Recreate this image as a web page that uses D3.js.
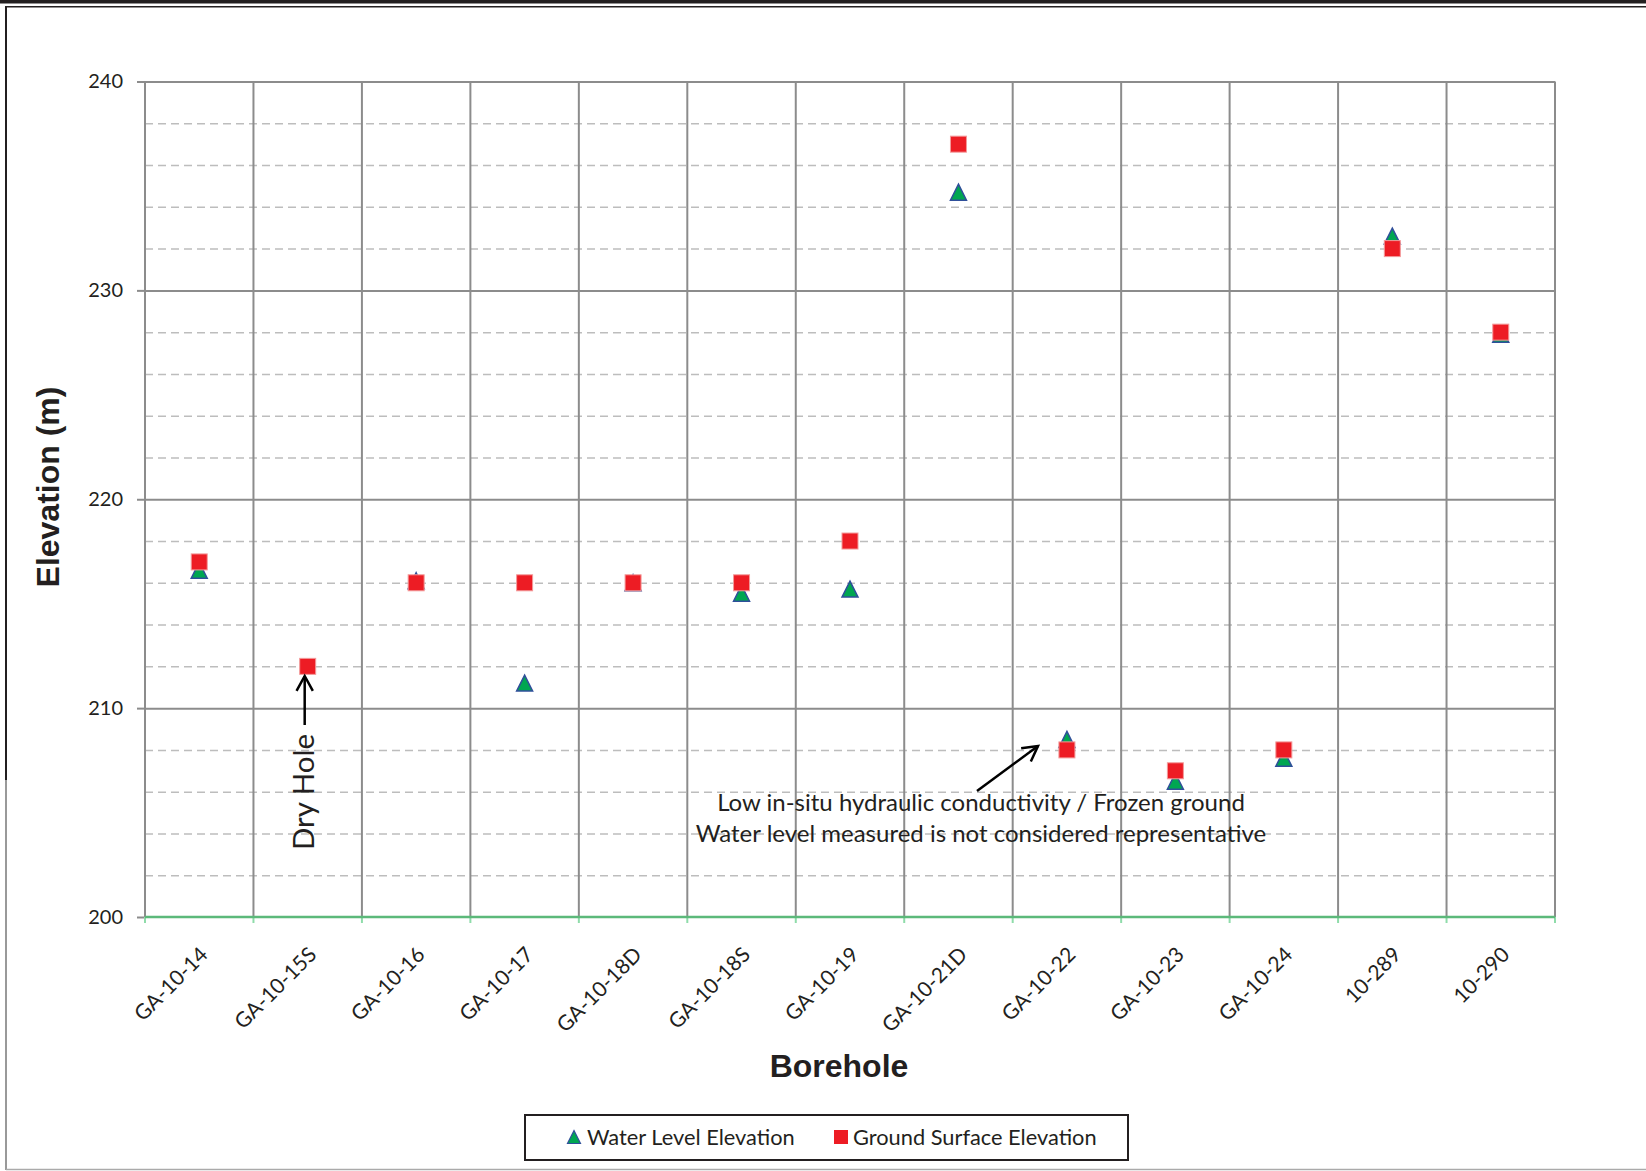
<!DOCTYPE html>
<html><head><meta charset="utf-8">
<script src="https://cdn.jsdelivr.net/npm/d3@7"></script>
<style>body{margin:0;background:#fff} svg{display:block}</style>
</head><body>
<svg id="c" width="1646" height="1171"></svg>
<script>
// ---- data ----
const categories = ["GA-10-14","GA-10-15S","GA-10-16","GA-10-17","GA-10-18D","GA-10-18S","GA-10-19","GA-10-21D","GA-10-22","GA-10-23","GA-10-24","10-289","10-290"];
const groundSurface = [217,212,216,216,216,216,218,237,208,207,208,232,228];
const waterLevel    = [216.6,null,216.1,211.2,216,215.5,215.7,234.7,208.5,206.5,207.6,232.6,227.9];
const yMajorTicks = [200,210,220,230,240];
const yMinorTicks = [202,204,206,208,212,214,216,218,222,224,226,228,232,234,236,238];
const seriesNames = ["Water Level Elevation","Ground Surface Elevation"];
const xTitle = "Borehole";
const yTitle = "Elevation (m)";
const dryHoleLabel = "Dry Hole";
const noteLines = ["Low in-situ hydraulic conductivity / Frozen ground","Water level measured is not considered representative"];

// ---- layout ----
const W = 1646, H = 1171;
const L = 145, R = 1555, T = 81.5, B = 917;
const ink = "#231f20";
const txtFont = "Lato, 'Open Sans', sans-serif";
const svg = d3.select("#c");

const x = d3.scaleBand().domain(categories).range([L, R]).padding(0);
const y = d3.scaleLinear().domain([200, 240]).range([B, T]);

// page frame
svg.append("rect").attr("x",0).attr("y",0).attr("width",W).attr("height",3.5).attr("fill",ink);
svg.append("line").attr("x1",5).attr("x2",W).attr("y1",6.7).attr("y2",6.7).attr("stroke",ink).attr("stroke-width",1.6);
svg.append("line").attr("x1",6).attr("x2",6).attr("y1",6).attr("y2",780).attr("stroke",ink).attr("stroke-width",2);
svg.append("line").attr("x1",6).attr("x2",6).attr("y1",780).attr("y2",1170).attr("stroke","#777").attr("stroke-width",1.5);
svg.append("line").attr("x1",6).attr("x2",W).attr("y1",1169.5).attr("y2",1169.5).attr("stroke","#aaa").attr("stroke-width",1.5);

// minor dashed gridlines
svg.append("g").attr("transform",`translate(${L},0)`)
  .call(d3.axisLeft(y).tickValues(yMinorTicks).tickSize(-(R-L)).tickFormat(""))
  .call(g => g.select(".domain").remove())
  .call(g => g.selectAll("line").attr("stroke","#bdbdbd").attr("stroke-width",1.5).attr("stroke-dasharray","8,5"));

// vertical gridlines at band boundaries
const bounds = categories.map(c => x(c)).concat([x.range()[1]]);
svg.append("g").selectAll("line").data(bounds).join("line")
  .attr("x1",d=>d).attr("x2",d=>d).attr("y1",T).attr("y2",B)
  .attr("stroke","#8c8c8c").attr("stroke-width",2);

// major gridlines + y axis ticks/labels
svg.append("g").attr("transform",`translate(${L},0)`)
  .call(d3.axisLeft(y).tickValues(yMajorTicks.filter(v=>v>200)).tickSize(-(R-L)).tickFormat(""))
  .call(g => g.select(".domain").remove())
  .call(g => g.selectAll("line").attr("stroke","#8c8c8c").attr("stroke-width",2));
const yAx = svg.append("g").attr("transform",`translate(${L},0)`)
  .call(d3.axisLeft(y).tickValues(yMajorTicks).tickSize(8).tickPadding(14).tickFormat(d3.format("d")));
yAx.select(".domain").remove();
yAx.selectAll("line").attr("stroke","#8c8c8c").attr("stroke-width",2);
yAx.selectAll("text").attr("font-family",txtFont).attr("font-size",20).attr("fill",ink);

// x axis (green)
svg.append("g").selectAll("line").data(bounds).join("line")
  .attr("x1",d=>d).attr("x2",d=>d).attr("y1",B).attr("y2",B+6)
  .attr("stroke","#8fdcaa").attr("stroke-width",2);
svg.append("line").attr("x1",L).attr("x2",R).attr("y1",B).attr("y2",B).attr("stroke","#5cb97a").attr("stroke-width",2.5);

// x labels
svg.append("g").selectAll("text").data(categories).join("text")
  .attr("transform", d => `translate(${x(d)+x.bandwidth()/2+10},956) rotate(-45)`)
  .attr("text-anchor","end").attr("font-family",txtFont).attr("font-size",21).attr("fill",ink)
  .text(d=>d);

// axis titles
svg.append("text").attr("x",(L+R)/2 - 11).attr("y",1077).attr("text-anchor","middle")
  .attr("font-family","'Liberation Sans', Arial, sans-serif").attr("font-weight","bold").attr("font-size",32).attr("fill",ink).text(xTitle);
svg.append("text").attr("transform","translate(59,487) rotate(-90)").attr("text-anchor","middle")
  .attr("font-family","'Liberation Sans', Arial, sans-serif").attr("font-weight","bold").attr("font-size",32).attr("fill",ink).text(yTitle);

// markers
const tri = (cx, cy, w, h) => `M${cx},${cy-h/2}L${cx+w/2},${cy+h/2}L${cx-w/2},${cy+h/2}Z`;
const waterPts = categories.map((c,i)=>({c, v: waterLevel[i]})).filter(d=>d.v!==null);
const groundPts = categories.map((c,i)=>({c, v: groundSurface[i]}));
const cxOf = c => x(c) + x.bandwidth()/2;
svg.append("g").selectAll("path").data(waterPts).join("path")
  .attr("d", d => tri(cxOf(d.c), y(d.v), 16, 16))
  .attr("fill","#00a651").attr("stroke","#2f4f9a").attr("stroke-width",1.5);
svg.append("g").selectAll("rect").data(groundPts).join("rect")
  .attr("x", d => cxOf(d.c)-8).attr("y", d => y(d.v)-8).attr("width",16).attr("height",16)
  .attr("fill","#ed1c24").attr("stroke","#f39a9a").attr("stroke-width",1);

// arrows
function arrow(x1,y1,x2,y2){
  const g = svg.append("g").attr("stroke","#000").attr("stroke-width",2.5).attr("fill","none");
  g.append("line").attr("x1",x1).attr("y1",y1).attr("x2",x2).attr("y2",y2);
  const a = Math.atan2(y2-y1, x2-x1), len = 17, sp = 0.5;
  const p1 = [x2 - len*Math.cos(a-sp), y2 - len*Math.sin(a-sp)];
  const p2 = [x2 - len*Math.cos(a+sp), y2 - len*Math.sin(a+sp)];
  g.append("polyline").attr("points", `${p1} ${x2},${y2} ${p2}`);
}
const dryX = cxOf("GA-10-15S") - 3;
arrow(dryX, 725, dryX, 676);
svg.append("text").attr("transform",`translate(${dryX+9.5},792) rotate(-90)`).attr("text-anchor","middle")
  .attr("font-family",txtFont).attr("font-size",29.5).attr("fill",ink).text(dryHoleLabel);

arrow(977, 791, 1038, 746);
svg.append("g").selectAll("text").data(noteLines).join("text")
  .attr("x",981).attr("y",(d,i)=>811+i*31).attr("text-anchor","middle")
  .attr("font-family",txtFont).attr("font-size",24).attr("fill",ink).text(d=>d);

// legend
svg.append("rect").attr("x",525).attr("y",1115).attr("width",603).attr("height",45)
  .attr("fill","#fff").attr("stroke",ink).attr("stroke-width",2);
svg.append("path").attr("d",tri(574,1137,13,13)).attr("fill","#00a651").attr("stroke","#2f4f9a").attr("stroke-width",1.2);
svg.append("text").attr("x",587).attr("y",1145).attr("font-family",txtFont).attr("font-size",21.8).attr("fill",ink).text(seriesNames[0]);
svg.append("rect").attr("x",834).attr("y",1130).attr("width",14).attr("height",14).attr("fill","#ed1c24");
svg.append("text").attr("x",853).attr("y",1145).attr("font-family",txtFont).attr("font-size",21.8).attr("fill",ink).text(seriesNames[1]);
</script>
</body></html>
